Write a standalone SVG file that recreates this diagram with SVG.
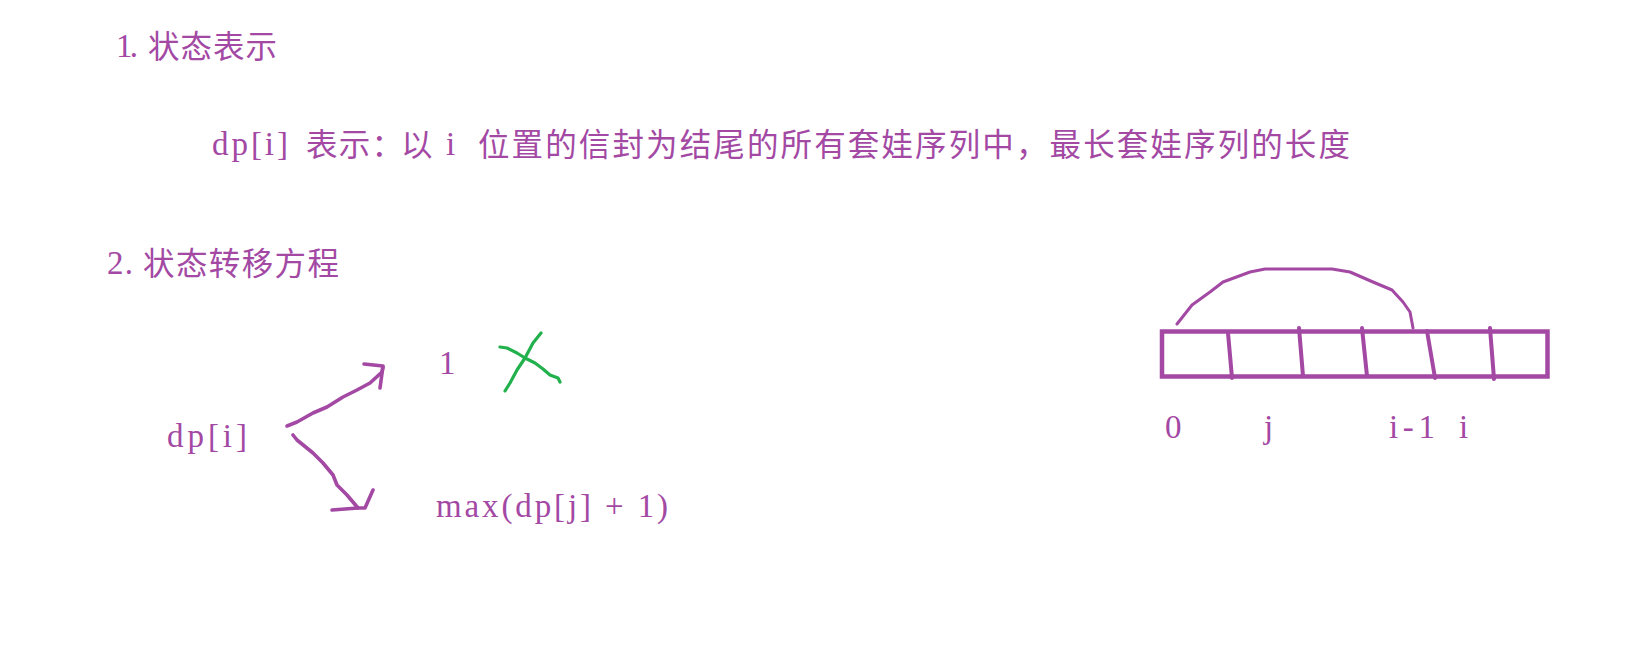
<svg xmlns="http://www.w3.org/2000/svg" width="1651" height="660" viewBox="0 0 1651 660">
<style>
.t{fill:#A349A4;font-family:"Noto Sans CJK SC","Noto Sans",sans-serif;font-size:31.5px}
.m{fill:#A349A4;font-family:"Liberation Serif","DejaVu Serif",serif;font-size:33px}
.s{fill:none;stroke:#A349A4;stroke-linecap:round;stroke-linejoin:round}
.g{fill:none;stroke:#22B14C;stroke-width:3.2;stroke-linecap:round;stroke-linejoin:round}
</style>
<rect width="1651" height="660" fill="#ffffff"/>
<g id="heading1">
<text class="m" x="116" y="57" textLength="22" lengthAdjust="spacing">1.</text>
<text class="t" x="148" y="58" textLength="129" lengthAdjust="spacing">状态表示</text>
</g>
<g id="definition">
<text class="m" x="212" y="155" textLength="76" lengthAdjust="spacing">dp[i]</text>
<text class="t" x="306" y="156" textLength="97" lengthAdjust="spacing">表示：</text>
<text class="t" x="401" y="156">以</text>
<text class="m" x="446" y="155">i</text>
<text class="t" x="478" y="156" textLength="872" lengthAdjust="spacing">位置的信封为结尾的所有套娃序列中，最长套娃序列的长度</text>
</g>
<g id="heading2">
<text class="m" x="107" y="274" textLength="26" lengthAdjust="spacing">2.</text>
<text class="t" x="143" y="275" textLength="196" lengthAdjust="spacing">状态转移方程</text>
</g>
<g id="dp-i">
<text class="m" x="167" y="447" textLength="80" lengthAdjust="spacing">dp[i]</text>
</g>
<g id="case-one">
<text class="m" x="439" y="374">1</text>
</g>
<g id="case-max">
<text class="m" x="436" y="517" textLength="232" lengthAdjust="spacing">max(dp[j] + 1)</text>
</g>
<g id="cross">
<polyline class="g" points="500,347 507,348 517,353 525,358 535,363 543,369 550,375 558,378 560,382"/>
<polyline class="g" points="541,333 533,343 525,358 517,370 510,383 505,391"/>
</g>
<g id="connectors">
<polyline class="s" stroke-width="3.6" points="287,426 297,422 313,413 327,407 343,397 357,390 370,383 382,372 383,367"/>
<polyline class="s" stroke-width="3.6" points="364,364 383,366 380,388"/>
<polyline class="s" stroke-width="3.6" points="293,435 297,440 313,453 323,463 333,475 337,485 347,495 358,508"/>
<polyline class="s" stroke-width="3.6" points="332,510 358,508 365,508 373,490"/>
</g>
<g id="array">
<rect x="1162" y="331.5" width="385.5" height="45" fill="none" stroke="#A349A4" stroke-width="4.5"/>
<line class="s" stroke-width="4" x1="1228" y1="333" x2="1232" y2="378"/>
<line class="s" stroke-width="4" x1="1299" y1="328" x2="1303" y2="376"/>
<line class="s" stroke-width="4" x1="1362" y1="328" x2="1367" y2="376"/>
<line class="s" stroke-width="4" x1="1427" y1="331" x2="1435" y2="378"/>
<line class="s" stroke-width="4" x1="1490" y1="328" x2="1494" y2="379"/>
<path class="s" stroke-width="3" d="M1177,324 L1192,305 L1210,292 L1223,282 L1250,272 L1265,269 L1332,269 L1350,272 L1373,282 L1392,290 L1403,302 L1410,312 L1413,328"/>
</g>
<g id="labels">
<text class="m" x="1165" y="438">0</text>
<text class="m" x="1264" y="438">j</text>
<text class="m" x="1389" y="438" textLength="46" lengthAdjust="spacing">i-1</text>
<text class="m" x="1459" y="438">i</text>
</g>
</svg>
